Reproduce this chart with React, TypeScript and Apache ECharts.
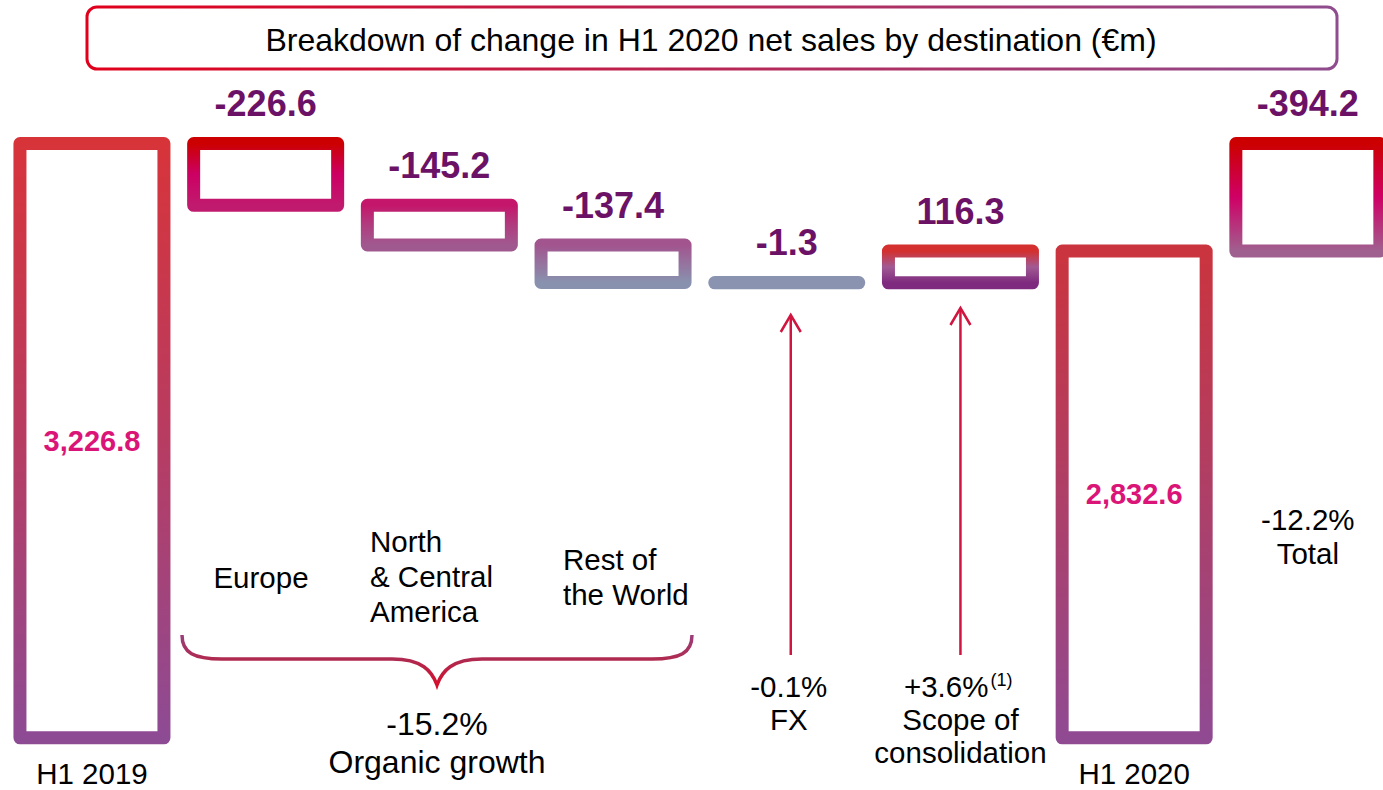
import React, { useEffect, useRef } from 'react';
import * as echarts from 'echarts';

// ---- data ----
const categories = ['H1 2019', 'Europe', 'North & Central America', 'Rest of the World', 'FX', 'Scope of consolidation', 'H1 2020', 'Total'];
const changes = [3226.8, -226.6, -145.2, -137.4, -1.3, 116.3, 2832.6, -394.2];
const kinds = ['total', 'step', 'step', 'step', 'step', 'step', 'total', 'diff'];
const regionLabels = ['Europe', 'North\n& Central\nAmerica', 'Rest of\nthe World'];
const noteValues = ['-15.2%', '-0.1%', '+3.6%', '-12.2%'];
const noteNames = ['Organic growth', 'FX', 'Scope of\nconsolidation', 'Total'];
const noteFootnote = '(1)';
const title = 'Breakdown of change in H1 2020 net sales by destination (€m)';

// ---- style ----
const FONT = "'Liberation Sans', Arial, Helvetica, sans-serif";
const Y_MIN = 1050;
const Y_MAX = 3700;
const BAR_W = 144;
const BORDER = 13;
const barStops: string[][] = [
  ['#D7343A', '#B73C62', '#8D4B94'],
  ['#CC0000', '#CC0064', '#C01A6E'],
  ['#C4166B', '#B03C7E', '#A0598F'],
  ['#A2548E', '#95739F', '#8892AE'],
  ['#8A93B0'],
  ['#D3302F', '#A15A93', '#7E2A7E'],
  ['#CA343E', '#AE3F67', '#904A92'],
  ['#CC0000', '#CF0066', '#A0608F'],
];

const bracePath = 'M0,0 C0,18 12,24 40,24 L210,24 C240,24 250,36 255,50 C260,36 270,24 300,24 L470,24 C498,24 510,18 510,0';
echarts.graphic.registerShape('brace', echarts.graphic.extendPath(bracePath, {}));

function grad(stops: string[]) {
  if (stops.length === 1) return stops[0];
  return new echarts.graphic.LinearGradient(0, 0, 0, 1,
    stops.map((c, i) => ({ offset: i / (stops.length - 1), color: c })));
}

function fmt(v: number, kind: string) {
  if (kind === 'total') return v.toLocaleString('en-US', { minimumFractionDigits: 1, maximumFractionDigits: 1 });
  return v.toFixed(1);
}

export default function App() {
  const ref = useRef<HTMLDivElement>(null);
  useEffect(() => {
    const chart = echarts.init(ref.current!, null, { renderer: 'svg' });

    // waterfall geometry from data
    const rows: number[][] = [];
    let running = 0;
    let first = 0;
    changes.forEach((v, i) => {
      const k = kinds[i];
      if (k === 'total') {
        if (i === 0) first = v;
        rows.push([i, Y_MIN, v]); running = v;
      } else if (k === 'step') {
        const a = running, b = running + v;
        rows.push([i, Math.min(a, b), Math.max(a, b)]); running = b;
      } else {
        rows.push([i, Math.min(first, running), Math.max(first, running)]);
      }
    });

    const renderItem = (params: any, api: any) => {
      const i = api.value(0);
      const low = api.value(1);
      const high = api.value(2);
      const top = api.coord([i, high]);
      const bot = api.coord([i, low]);
      const x = top[0];
      const yTop = top[1];
      const yBot = bot[1];
      const stops = barStops[i];
      const g = grad(stops);
      const solid = stops.length === 1;
      const k = kinds[i];
      const label = fmt(changes[i], k);
      const text = k === 'total'
        ? {
          type: 'text', z2: 10,
          style: { text: label, x, y: (yTop + yBot) / 2, align: 'center', verticalAlign: 'middle', fontSize: 29, fontWeight: 'bold', fontFamily: FONT, fill: '#DA1577' },
        }
        : {
          type: 'text', z2: 10,
          style: { text: label, x, y: yTop - 40, align: 'center', verticalAlign: 'middle', fontSize: 36, fontWeight: 'bold', fontFamily: FONT, fill: '#6C1266' },
        };
      return {
        type: 'group',
        children: [
          {
            type: 'rect',
            shape: { x: x - BAR_W / 2, y: yTop, width: BAR_W, height: Math.max(yBot - yTop, 0.3) },
            style: { fill: solid ? g : '#ffffff', stroke: g, lineWidth: BORDER, lineJoin: 'round' },
          },
          text,
        ],
      };
    };

    chart.setOption({
      animation: false,
      grid: { left: 5.1, top: 14.3, width: 1389.6, height: 723.5, outerBoundsMode: 'none', containLabel: false },
      xAxis: {
        type: 'category', data: categories,
        axisLine: { show: false }, axisTick: { show: false }, splitLine: { show: false },
        axisLabel: {
          interval: 0, margin: 21, fontSize: 29.5, color: '#000', fontFamily: FONT,
          formatter: (val: string, idx: number) => (kinds[idx] === 'total' ? val : ''),
        },
      },
      yAxis: { type: 'value', min: Y_MIN, max: Y_MAX, show: false },
      series: [
        {
          type: 'custom', silent: true, clip: false,
          encode: { x: 0, y: [1, 2] },
          renderItem,
          data: rows,
        },
      ],
    });

    const cx = (i: number) => chart.convertToPixel({ xAxisIndex: 0 }, categories[i]) as number;
    const txt = (x: number, y: number, text: string, extra: any = {}) => ({
      type: 'text', x, y, silent: true,
      style: { text, fontSize: 29.5, fontFamily: FONT, fill: '#000', align: 'center', verticalAlign: 'middle', lineHeight: 34, ...extra },
    });
    const arrowColor = '#D01540';
    const arrow = (x: number, top: number, bottom: number) => [
      { type: 'line', silent: true, shape: { x1: x, y1: top, x2: x, y2: bottom }, style: { stroke: arrowColor, lineWidth: 2.5 } },
      { type: 'polyline', silent: true, shape: { points: [[x - 10, top + 17], [x, top], [x + 10, top + 17]] }, style: { stroke: arrowColor, lineWidth: 2.5, fill: 'none' } },
    ];
    const fxX = cx(4);
    const scX = cx(5);
    const totX = cx(7);

    chart.setOption({
      graphic: [
        {
          type: 'rect', silent: true, z: -1,
          shape: { x: 87, y: 7, width: 1250, height: 62, r: 10 },
          style: {
            fill: '#fff', lineWidth: 3,
            stroke: new echarts.graphic.LinearGradient(0, 0, 1, 0, [{ offset: 0, color: '#E1001B' }, { offset: 1, color: '#8F4C8E' }]),
          },
        },
        txt(711, 40, title, { fontSize: 32 }),
        txt(261, 577, regionLabels[0]),
        txt(370, 576, regionLabels[1], { align: 'left', lineHeight: 35 }),
        txt(563, 577, regionLabels[2], { align: 'left', lineHeight: 35 }),
        {
          type: 'brace', x: 182, y: 635, silent: true,
          style: {
            fill: 'none', lineWidth: 3.5,
            stroke: new echarts.graphic.LinearGradient(0, 0, 0, 1, [
              { offset: 0, color: '#9A3F7C' }, { offset: 0.5, color: '#B0294F' }, { offset: 1, color: '#D50F2C' }]),
          },
        },
        txt(437, 724, noteValues[0], { fontSize: 32 }),
        txt(437, 762, noteNames[0], { fontSize: 32 }),
        ...arrow(fxX + 4, 315, 655),
        ...arrow(scX, 308, 655),
        txt(fxX + 2, 686, noteValues[1]),
        txt(fxX + 2, 719, noteNames[1]),
        txt(scX + 28, 686, noteValues[2], { align: 'right' }),
        txt(scX + 30, 680, noteFootnote, { align: 'left', fontSize: 18 }),
        txt(scX, 735.5, noteNames[2], { lineHeight: 33 }),
        txt(totX, 519, noteValues[3]),
        txt(totX, 553, noteNames[3]),
      ],
    });

    return () => chart.dispose();
  }, []);
  return <div ref={ref} style={{ position: 'absolute', left: 0, top: 0, width: 1383, height: 790, background: '#fff' }} />;
}
